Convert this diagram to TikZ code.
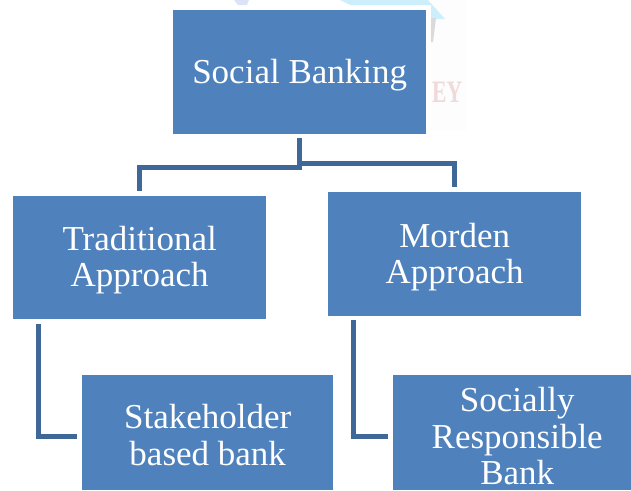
\documentclass[tikz,border=0pt]{standalone}
\usepackage{fontspec}
\setmainfont{Liberation Serif}
\definecolor{boxblue}{HTML}{4F81BD}
\definecolor{linkblue}{HTML}{3F6797}
\definecolor{wmcyan}{HTML}{CDEFFB}
\definecolor{wmlav}{HTML}{DDE3F7}
\definecolor{wmgrey}{HTML}{D9D9DE}
\definecolor{wmred}{HTML}{EFD9D9}
\definecolor{wmpale}{HTML}{FDFDFD}
\newcommand{\liftedtext}[2]{\raisebox{#1}[\height][\depth]{\begin{tabular}{@{}c@{}}#2\end{tabular}}}
\tikzset{
  box/.style={fill=boxblue,draw=none,anchor=north west,inner sep=0pt,text=white,align=center,font=\fontsize{35}{36.5}\selectfont},
  link/.style={draw=linkblue,line width=5pt,line join=miter}
}
\begin{document}
\begin{tikzpicture}[x=1pt,y=-1pt]
\useasboundingbox (0,0) rectangle (631,490);
\fill[white] (0,0) rectangle (631,490);
% faint watermark behind the top box
\fill[wmpale] (431,0) rectangle (467,130);
\fill[wmlav] (234,0) -- (249,0) -- (247,5) -- (238,5) -- cycle;
\fill[wmcyan] (340,0) -- (428,0) -- (445,19) -- (431,19) -- (431,5) -- (350,5) -- cycle;
\fill[wmgrey] (431,18) -- (436,18) -- (433,42) -- (431,42) -- cycle;
\node[anchor=west,text=wmred,font=\bfseries\fontsize{24}{24}\selectfont,inner sep=0pt,xscale=.9,yscale=1.3] (wm) at (432,92) {EY};
% boxes
\node[box,minimum width=253pt,minimum height=124pt] (root) at (173,10) {\liftedtext{-4pt}{Social Banking}};
\node[box,minimum width=253pt,minimum height=123pt] (trad) at (13,196) {\liftedtext{-3.5pt}{Traditional\\Approach}};
\node[box,minimum width=253pt,minimum height=124pt] (mod) at (328,192) {\liftedtext{-4pt}{Morden\\Approach}};
\node[box,minimum width=251pt,minimum height=115pt] (stake) at (82,375) {\liftedtext{-7pt}{Stakeholder\\based bank}};
\node[box,minimum width=238pt,minimum height=115pt] (soc) at (393,375) {\hspace*{10pt}\liftedtext{-8pt}{Socially\\Responsible\\Bank}};
% connector end points, just off the boxes
\coordinate (rs) at (299,138);
\coordinate (tt) at (139,191);
\coordinate (mt) at (454,187);
\coordinate (ts) at (38,324);
\coordinate (st) at (77,436.5);
\coordinate (ms) at (353,320);
\coordinate (so) at (388,436.5);
% connectors
\draw[link] (rs) -- (299,167) -- (139,167) -- (tt);
\draw[link] (299,163) -- (454,163) -- (mt);
\draw[link] (ts) |- (st);
\draw[link] (ms) |- (so);
\end{tikzpicture}
\end{document}
